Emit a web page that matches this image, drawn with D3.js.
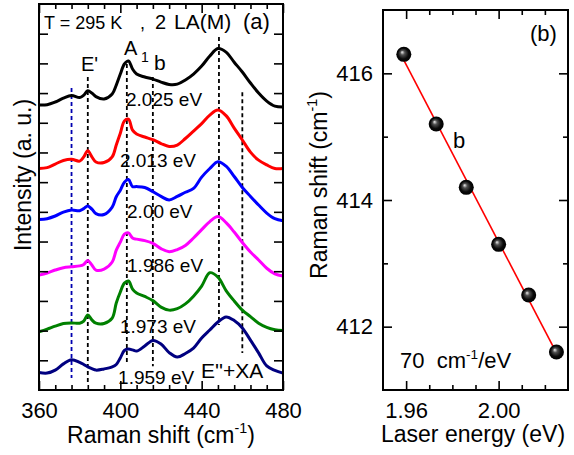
<!DOCTYPE html>
<html><head><meta charset="utf-8">
<script src="https://cdn.jsdelivr.net/npm/d3@7"></script>
<style>
body{margin:0;background:#fff}
svg{display:block}
text{font-family:"Liberation Sans",Arial,sans-serif;fill:#000}
</style>
</head><body>
<svg id="chart" width="574" height="455"></svg>
<script>
// ---------- Panel (a) data ----------
const ramanShift = [360,364,368,372,376,380,382,384,386,388,392,396,398,400,402,404,406,408,412,416,420,424,428,432,436,440,444,448,452,456,460,464,468,472,476,480];
const spec2025 = [9.60,9.61,9.70,9.83,9.92,9.85,9.93,10.08,10.00,9.88,9.80,9.97,10.27,10.64,10.98,11.08,10.81,10.64,10.54,10.47,10.37,10.29,10.30,10.44,10.64,10.91,11.25,11.50,11.38,11.04,10.71,10.34,10.00,9.73,9.56,9.53];
const spec2013 = [7.46,7.49,7.61,7.73,7.77,7.71,7.85,8.06,7.85,7.68,7.66,7.85,8.25,8.65,9.06,9.12,8.75,8.62,8.52,8.43,8.30,8.20,8.25,8.47,8.72,8.97,9.26,9.43,9.24,8.82,8.42,8.01,7.74,7.58,7.46,7.46];
const spec2000 = [5.74,5.77,5.86,5.99,6.06,6.04,6.11,6.20,6.09,5.94,5.91,6.16,6.51,6.73,7.00,7.09,6.85,6.85,6.82,6.68,6.52,6.40,6.52,6.66,6.79,7.17,7.46,7.69,7.54,7.19,6.82,6.52,6.23,5.96,5.77,5.70];
const spec1986 = [3.87,3.94,4.04,4.12,4.15,4.18,4.23,4.36,4.21,4.04,4.07,4.31,4.71,4.98,5.25,5.29,5.12,5.08,5.03,4.94,4.76,4.66,4.73,4.87,5.12,5.40,5.67,5.84,5.64,5.32,4.97,4.65,4.38,4.10,3.91,3.84];
const spec1973 = [1.96,2.05,2.15,2.24,2.26,2.25,2.32,2.53,2.36,2.25,2.24,2.42,2.93,3.30,3.60,3.67,3.40,3.27,3.15,3.01,2.79,2.69,2.74,2.90,3.16,3.50,3.95,3.80,3.35,3.00,2.69,2.47,2.25,2.11,2.03,2.00];
const spec1959 = [0.59,0.57,0.67,0.88,1.02,0.93,0.86,0.78,0.72,0.67,0.71,0.78,0.86,1.08,1.33,1.38,1.35,1.31,1.48,1.67,1.55,1.26,1.11,1.23,1.41,1.75,2.02,2.29,2.46,2.34,2.09,1.68,1.25,0.81,0.66,0.57];
const spectra = [spec2025, spec2013, spec2000, spec1986, spec1973, spec1959];
const spectrumColors = ["#000000","#ff0000","#0000ff","#ff00ff","#008000","#000080"];
const energyLabels = ["2.025 eV","2.013 eV","2.00 eV","1.986 eV","1.973 eV","1.959 eV"];
const energyLabelX = [402.8, 399.8, 403.3, 403.3, 399.8, 398.9];
const energyLabelY = [9.56, 7.51, 5.79, 3.97, 1.92, 0.20];
// vertical marker lines: position, top, bottom (intensity units)
const markerPos = [376, 384, 403.2, 416, 448.5, 460];
const markerTop = [10.17, 10.54, 10.98, 10.54, 11.89, 10.03];
const markerBottom = [0.40, 0.27, 0.90, 0.80, 2.19, 1.25];
const markerColors = ["#0000b0","#000","#000","#000","#000","#000"];
const xTicksA = [360,400,440,480];

// ---------- Panel (b) data ----------
const laserEnergy = [1.959, 1.973, 1.986, 2.00, 2.013, 2.025];
const bShift = [416.3, 415.2, 414.2, 413.3, 412.5, 411.6];
const xTicksB = [1.96, 2.00];
const xMinorB = [1.97, 1.98, 1.99, 2.01, 2.02];
const yTicksB = [412, 414, 416];
const yMinorB = [413, 415];

const svg = d3.select("#chart");
const defs = svg.append("defs");
const grad = defs.append("radialGradient").attr("id","ball").attr("cx","50%").attr("cy","50%").attr("r","50%").attr("fx","38%").attr("fy","35%");
grad.append("stop").attr("offset","0%").attr("stop-color","#f0f0f0");
grad.append("stop").attr("offset","30%").attr("stop-color","#505050");
grad.append("stop").attr("offset","70%").attr("stop-color","#0a0a0a");
grad.append("stop").attr("offset","100%").attr("stop-color","#000");

function sup(textSel, parts, size){
  textSel.append("tspan").text(parts[0]);
  textSel.append("tspan").attr("font-size", size*0.62).attr("dy", -size*0.42).text(parts[1]);
  textSel.append("tspan").attr("dy", size*0.42).text(parts[2]);
}

// ================= Panel (a) =================
const A = {l:39, r:283, t:4, b:390};
const xA = d3.scaleLinear([360,480],[A.l,A.r]);
const yA = d3.scaleLinear([0,13],[A.b,A.t]);
const gA = svg.append("g");

markerPos.forEach((p,i)=>{
  gA.append("line").attr("x1",xA(p)).attr("x2",xA(p))
    .attr("y1",yA(markerTop[i])).attr("y2",yA(markerBottom[i]))
    .attr("stroke",markerColors[i]).attr("stroke-width",1.8).attr("stroke-dasharray","4,3");
});

const lineA = d3.line().x((d,i)=>xA(ramanShift[i])).y(d=>yA(d)).curve(d3.curveCatmullRom.alpha(0.5));
spectra.forEach((s,i)=>{
  gA.append("path").attr("d",lineA(s)).attr("fill","none")
    .attr("stroke",spectrumColors[i]).attr("stroke-width",3).attr("stroke-linejoin","round");
});

energyLabels.forEach((t,i)=>{
  gA.append("text").attr("x",xA(energyLabelX[i])).attr("y",yA(energyLabelY[i]))
    .attr("font-size",19).attr("fill","#111").text(t);
});

const minorA = d3.range(360,481,8).filter(v=>!xTicksA.includes(v));
const yTicksA = d3.range(1,13);
gA.append("g").attr("transform",`translate(0,${A.b})`)
  .call(d3.axisBottom(xA).tickValues(xTicksA).tickSizeInner(-9).tickSizeOuter(0).tickPadding(12).tickFormat(d3.format("d")))
  .call(g=>{g.select(".domain").remove(); g.selectAll("text").attr("font-size",22).attr("font-family","Liberation Sans, Arial, sans-serif");});
gA.append("g").attr("transform",`translate(0,${A.b})`)
  .call(d3.axisBottom(xA).tickValues(minorA).tickSizeInner(-5).tickSizeOuter(0).tickFormat(""))
  .call(g=>g.select(".domain").remove());
gA.append("g").attr("transform",`translate(0,${A.t})`)
  .call(d3.axisTop(xA).tickValues(xTicksA).tickSizeInner(-9).tickSizeOuter(0).tickFormat(""))
  .call(g=>g.select(".domain").remove());
gA.append("g").attr("transform",`translate(0,${A.t})`)
  .call(d3.axisTop(xA).tickValues(minorA).tickSizeInner(-5).tickSizeOuter(0).tickFormat(""))
  .call(g=>g.select(".domain").remove());
gA.append("g").attr("transform",`translate(${A.l},0)`)
  .call(d3.axisLeft(yA).tickValues(yTicksA).tickSizeInner(-9).tickSizeOuter(0).tickFormat(""))
  .call(g=>g.select(".domain").remove());
gA.append("g").attr("transform",`translate(${A.r},0)`)
  .call(d3.axisRight(yA).tickValues(yTicksA).tickSizeInner(-9).tickSizeOuter(0).tickFormat(""))
  .call(g=>g.select(".domain").remove());
gA.selectAll(".tick line").attr("stroke","#000").attr("stroke-width",1.6);
gA.append("rect").attr("x",A.l).attr("y",A.t).attr("width",A.r-A.l).attr("height",A.b-A.t)
  .attr("fill","none").attr("stroke","#000").attr("stroke-width",2);

gA.append("text").attr("x",44).attr("y",29).attr("font-size",18).text("T = 295 K");
gA.append("text").attr("x",140).attr("y",29).attr("font-size",18).text(",");
gA.append("text").attr("x",155).attr("y",29).attr("font-size",20).text("2");
gA.append("text").attr("x",174).attr("y",29).attr("font-size",21).text("LA(M)");
gA.append("text").attr("x",243).attr("y",29).attr("font-size",22).text("(a)");
gA.append("text").attr("x",81).attr("y",71).attr("font-size",20).text("E'");
gA.append("text").attr("x",124).attr("y",55).attr("font-size",20).text("A");
gA.append("text").attr("x",141).attr("y",62).attr("font-size",14).text("1");
gA.append("text").attr("x",154).attr("y",70).attr("font-size",21).text("b");
gA.append("text").attr("x",201).attr("y",378).attr("font-size",21).text("E''+XA");

sup(gA.append("text").attr("x",161).attr("y",443).attr("text-anchor","middle").attr("font-size",23), ["Raman shift (cm","-1",")"], 23);
gA.append("text").attr("transform","translate(31,175) rotate(-90)").attr("text-anchor","middle").attr("font-size",23).text("Intensity (a. u.)");

// ================= Panel (b) =================
const B = {l:383, r:568, t:10, b:390};
const xB = d3.scaleLinear([1.95,2.03],[B.l,B.r]);
const yB = d3.scaleLinear([411,417],[B.b,B.t]);
const gB = svg.append("g");

gB.append("g").attr("transform",`translate(0,${B.b})`)
  .call(d3.axisBottom(xB).tickValues(xTicksB).tickSizeInner(-9).tickSizeOuter(0).tickPadding(12).tickFormat(d3.format(".2f")))
  .call(g=>{g.select(".domain").remove(); g.selectAll("text").attr("font-size",22).attr("font-family","Liberation Sans, Arial, sans-serif");});
gB.append("g").attr("transform",`translate(0,${B.b})`)
  .call(d3.axisBottom(xB).tickValues(xMinorB).tickSizeInner(-5).tickSizeOuter(0).tickFormat(""))
  .call(g=>g.select(".domain").remove());
gB.append("g").attr("transform",`translate(0,${B.t})`)
  .call(d3.axisTop(xB).tickValues(xTicksB).tickSizeInner(-9).tickSizeOuter(0).tickFormat(""))
  .call(g=>g.select(".domain").remove());
gB.append("g").attr("transform",`translate(0,${B.t})`)
  .call(d3.axisTop(xB).tickValues(xMinorB).tickSizeInner(-5).tickSizeOuter(0).tickFormat(""))
  .call(g=>g.select(".domain").remove());
gB.append("g").attr("transform",`translate(${B.l},0)`)
  .call(d3.axisLeft(yB).tickValues(yTicksB).tickSizeInner(-9).tickSizeOuter(0).tickPadding(10).tickFormat(d3.format("d")))
  .call(g=>{g.select(".domain").remove(); g.selectAll("text").attr("font-size",22).attr("font-family","Liberation Sans, Arial, sans-serif");});
gB.append("g").attr("transform",`translate(${B.l},0)`)
  .call(d3.axisLeft(yB).tickValues(yMinorB).tickSizeInner(-5).tickSizeOuter(0).tickFormat(""))
  .call(g=>g.select(".domain").remove());
gB.append("g").attr("transform",`translate(${B.r},0)`)
  .call(d3.axisRight(yB).tickValues(yTicksB).tickSizeInner(-9).tickSizeOuter(0).tickFormat(""))
  .call(g=>g.select(".domain").remove());
gB.append("g").attr("transform",`translate(${B.r},0)`)
  .call(d3.axisRight(yB).tickValues(yMinorB).tickSizeInner(-5).tickSizeOuter(0).tickFormat(""))
  .call(g=>g.select(".domain").remove());
gB.selectAll(".tick line").attr("stroke","#000").attr("stroke-width",1.6);
gB.append("rect").attr("x",B.l).attr("y",B.t).attr("width",B.r-B.l).attr("height",B.b-B.t)
  .attr("fill","none").attr("stroke","#000").attr("stroke-width",2);

// linear fit through the points
const mx = d3.mean(laserEnergy), my = d3.mean(bShift);
const slope = d3.sum(laserEnergy.map((x,i)=>(x-mx)*(bShift[i]-my))) / d3.sum(laserEnergy.map(x=>(x-mx)*(x-mx)));
const icpt = my - slope*mx;
const e0 = laserEnergy[0], e1 = laserEnergy[laserEnergy.length-1];
gB.append("line").attr("x1",xB(e0)).attr("y1",yB(icpt+slope*e0)).attr("x2",xB(e1)).attr("y2",yB(icpt+slope*e1))
  .attr("stroke","#ff0000").attr("stroke-width",1.6);

gB.selectAll("circle.pt").data(laserEnergy).join("circle").attr("class","pt")
  .attr("cx",d=>xB(d)).attr("cy",(d,i)=>yB(bShift[i])).attr("r",7.5).attr("fill","url(#ball)");

gB.append("text").attr("x",530).attr("y",41).attr("font-size",22).text("(b)");
gB.append("text").attr("x",453).attr("y",148).attr("font-size",22).text("b");
sup(gB.append("text").attr("x",400).attr("y",368).attr("font-size",22), ["70\u00a0\u00a0cm","-1","/eV"], 22);

sup(gB.append("text").attr("transform","translate(327,185) rotate(-90)").attr("text-anchor","middle").attr("font-size",23), ["Raman shift (cm","-1",")"], 23);
gB.append("text").attr("x",473).attr("y",442).attr("text-anchor","middle").attr("font-size",23).text("Laser energy (eV)");
</script>
</body></html>
